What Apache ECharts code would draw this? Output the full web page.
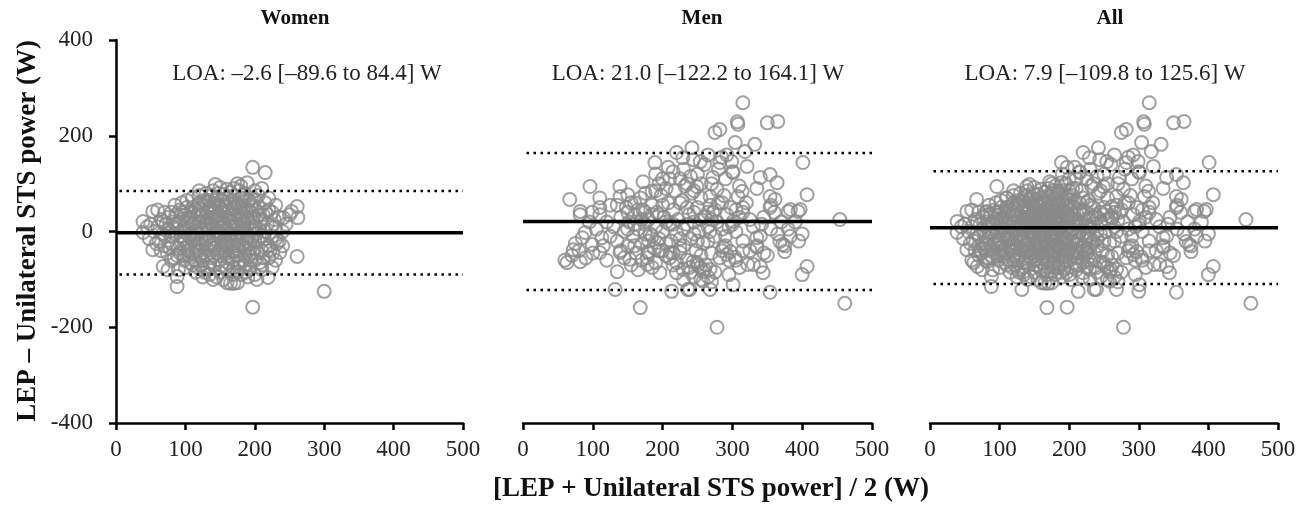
<!DOCTYPE html>
<html>
<head>
<meta charset="utf-8">
<script src="https://cdn.jsdelivr.net/npm/echarts@6/dist/echarts.min.js"></script>
<style>html,body{margin:0;padding:0;background:#fff;}#c{width:1313px;height:508px;}</style>
</head>
<body>
<div id="c"></div>
<script>
// ---- data ----
var panelTitles = ["Women", "Men", "All"];
var loaTexts = ["LOA: \u20132.6 [\u201389.6 to 84.4] W", "LOA: 21.0 [\u2013122.2 to 164.1] W", "LOA: 7.9 [\u2013109.8 to 125.6] W"];
var meanBias = [-2.6, 21.0, 7.9];
var lowerLOA = [-89.6, -122.2, -109.8];
var upperLOA = [84.4, 164.1, 125.6];
var xTicks = [0, 100, 200, 300, 400, 500];
var yTicks = [-400, -200, 0, 200, 400];

var women = [
[197,134],[215,123],[189,102],[143,98],[150,92],[160,88],[170,90],[178,85],[261,52],[253,42],[241,29],[262,29],[250,35],[261,-52],[236,-44],[88,-115],[88,-94],[160,-107],[165,-108],[170,-108],[175,-107],[140,-100],[203,-100],[219,-96],[193,-79],[197,-158],[300,-125],[39,21],[39,-2],[53,42],[53,-38],[68,-73],[45,10],[48,-15],[60,45],[70,40],[75,-80],[80,-60],[85,55],[95,60],[110,70],[120,75],[130,80],[135,-90],[150,-85],[180,-90],[185,-70],[200,-60],[210,-40],[220,-30],[225,-10],[230,10],[225,40],[215,60],[205,75],[200,85],[195,50],[210,20],[215,0],[220,-55],[205,-20],[190,-40],[235,-20],[240,0],
[60,10],[62,-20],[65,25],[67,-5],[70,-30],[72,15],[74,-45],[76,30],[78,0],[80,-25],[82,20],[84,-55],[86,35],[88,5],[90,-35],[92,45],[94,-10],[96,25],[98,-60],[100,10],[100,-20],[102,50],[104,-40],[106,30],[108,-5],[110,-70],[110,15],[112,40],[114,-30],[116,0],[118,55],[120,-50],[120,20],[122,-15],[124,35],[126,-80],[128,5],[130,60],[130,-35],[132,25],[134,-10],[136,45],[138,-55],[140,10],[140,-25],[142,65],[144,30],[146,-45],[148,0],[150,50],[150,-15],[152,-70],[154,20],[156,40],[158,-30],[160,5],[160,70],[162,-55],[164,25],[166,-10],[168,45],[170,-40],[170,15],[172,60],[174,-20],[176,35],[178,-65],[180,0],[180,50],[182,-30],[184,20],[186,-50],[188,40],[190,-10],[192,65],[194,-35],[196,10],[198,30],[200,-20],[202,45],[204,-45],[206,5],[208,25],[210,-70],[212,35],[214,-15],[218,15],[222,-40],[228,25],[232,-25],
[85,-5],[95,0],[105,10],[115,-15],[125,20],[135,5],[145,-5],[155,10],[165,-20],[175,15],[185,5],[195,-15],[105,-50],[115,45],[125,-60],[135,50],[145,70],[155,-40],[165,60],[175,-50],[185,65],[195,-60],[90,20],[100,35],[110,-45],[120,60],[130,-5],[140,40],[150,25],[160,-25],[170,35],[180,-10],[190,25],[200,10],[75,5],[80,40],[70,-10],[65,-40],[90,-80],[100,-75],[115,-85],[125,-95],[145,-95],[155,-100],[175,-85],[190,-95],[120,85],[140,85],[155,78],[165,82],[185,80],[195,70],[170,-75],[160,-80],[150,-60],[140,-70],[130,-50],[118,-5],[128,-25],[138,15],[148,35],[158,55],[168,-60],[178,25],[188,-20],[198,-45],[108,25],[98,-15],[88,-50],[78,-35],[68,20],[58,-25],[55,0],[50,15],[112,-60],[122,5],[132,40],[142,-15],[152,-30],[162,40],[172,-5],[182,75],[192,-75],[202,-5],[212,-55],[132,-75],[146,15],[156,-10],[166,10],[176,-30],[186,-35],[196,55],[206,50],[216,40],[226,-45],[230,-60],[240,-30],[245,15],[230,55],[220,70],[210,90],[180,95],[175,100],[210,-80],[200,-90],[225,-75],
[92,-25],[97,5],[103,-30],[107,40],[113,20],[117,-40],[121,-25],[123,45],[127,-45],[129,15],[131,-15],[133,65],[137,-30],[139,25],[141,-50],[143,0],[147,55],[149,-40],[151,10],[153,45],[157,-20],[159,30],[161,-65],[163,-5],[167,20],[169,-30],[171,50],[173,5],[177,-40],[179,40],[181,10],[183,-60],[187,30],[189,-5],[191,45],[193,-25],[197,20],[199,-35],[103,20],[111,-10],[119,35],[127,65],[135,-65],[143,50],[151,-50],[159,-45],[167,-40],[175,55],[183,45],[191,-50],[145,25],[155,-25],[165,35],[175,-10],[185,15],[135,30],[125,-30],[115,10],[105,-10],[95,40],[85,15],[80,-10],[92,-45],[102,65],[112,-20],[122,-70],[132,10],[142,-35],[152,65],[162,-15],[172,-50],[182,35],[192,5],[160,50],[150,-5],[140,55],[130,30],[120,-40],[110,50],[100,-35],[170,75],[180,70],[148,80],[138,75],[158,-75],[168,-90],[178,-75],[188,-85],[128,-85],[118,-75],[108,-65],[98,-50],[205,35],[210,-10],[215,-35],[200,65],[207,-65],[225,10],[220,45],[230,-15],[235,30]
];

var men = [
[96,94],[67,67],[189,144],[208,134],[172,104],[139,94],[139,73],[150,77],[185,84],[220,165],[229,154],[242,175],[244,150],[110,50],[82,42],
[315,269],[307,229],[308,224],[282,213],[275,207],[350,227],[365,230],[304,186],[332,182],[318,167],[401,144],[254,146],[282,144],[299,146],[321,136],[301,123],[272,113],[340,113],[354,119],[364,102],[407,77],[354,73],[361,67],[383,46],[397,46],[314,84],[308,73],[278,88],[268,73],[249,94],[454,25],
[63,-65],[82,-63],[72,-38],[85,-13],[89,-2],[113,-13],[110,-44],[99,-27],[135,-84],[132,-121],[168,-159],[178,-69],[196,-86],[213,-125],[236,-121],[220,-86],[229,-79],[82,35],[99,40],[110,35],[139,-44],[153,-58],[179,-42],[192,-23],[211,-44],[225,-44],[239,-75],[244,-63],
[278,-200],[461,-150],[354,-127],[301,-111],[268,-121],[239,-121],[400,-90],[407,-73],[344,-86],[340,-73],[322,-69],[330,-69],[375,-42],[368,-21],[383,-10],[372,-27],[380,42],[394,42],[354,50],[335,-33],[335,-13],[342,15],[292,-48],[297,-42],[304,-54],[287,-33],[258,-84],[268,-79],[249,-65],[254,-75],[258,-104],[315,50],[301,21],[268,0],
[130,10],[135,-20],[140,30],[145,0],[148,50],[150,-30],[152,20],[155,60],[158,-10],[160,35],[162,-45],[165,5],[168,70],[170,-25],[172,45],[175,15],[178,-55],[180,25],[182,-5],[185,55],[188,-35],[190,10],[192,40],[195,-15],[198,75],[200,0],[202,30],[205,-50],[208,60],[210,15],[212,-20],[215,45],[218,85],[220,-5],[222,25],[225,-35],[228,65],[230,5],[232,95],[235,-60],[238,35],[240,-15],[242,80],[245,20],[248,-40],[250,50],[252,0],[255,70],[258,-25],[260,30],[262,-70],[265,10],[268,55],[270,-45],[272,40],[275,-85],[278,20],[280,60],[282,-55],[285,5],[288,75],[290,-30],[292,35],[295,-90],[298,50],[300,15],[305,-60],[310,30],[315,-20],[320,60],[325,-40],[330,10],[335,90],[340,-10],[345,30],[350,-50],[355,5],[360,40],[365,-5],[370,20],[375,-30],[380,5],[390,20],[395,-20],[400,-5],
[145,-55],[155,-70],[165,-80],[175,80],[185,-75],[195,100],[205,90],[215,-70],[225,110],[235,100],[245,-95],[255,-100],[265,-95],[270,-105],[260,-80],[250,-70],[240,-85],[230,-100],[220,-65],[210,-55],[200,-40],[190,-65],[180,-45],[170,-60],[160,-30],[150,40],[140,-40],[135,55],[125,-10],[120,20],[115,-30],[105,5],[100,-45],[95,20],[90,-55],[80,-40],[75,-25],[70,-50],[60,-60],[120,-60],[125,55],[110,70],[210,110],[215,125],[190,120],[200,110],[230,130],[240,115],[250,120],[260,140],[270,100],[280,130],[290,110],[300,125],[310,95],[285,155],[292,160],[265,160],[255,100],[245,85],[190,85],[180,-20],[160,15],[150,5],[170,25],[185,-10],[195,35],[205,-25],[215,15],[225,-15],[235,50],[245,-5],[255,25],[265,-20],[275,45],[285,-40],[295,10],[305,0],[315,40],[325,25],[335,-30],[345,-45],[355,55],
[160,60],[165,45],[175,-5],[185,35],[195,-40],[205,20],[215,-45],[225,60],[235,15],[245,40],[255,-50],[265,40],[275,-10],[285,60],[295,-60],[305,45],[315,-40],[175,40],[200,55],[230,-30],[250,-20],[270,25],[290,-10],[310,-75]
];

var allData = women.concat(men);
var panelData = [women, men, allData];

// ---- layout ----
var grids = [
  {left: 116, width: 347, top: 40, height: 383},
  {left: 523, width: 349, top: 40, height: 383},
  {left: 930, width: 348, top: 40, height: 383}
];
var titleX = [290, 697, 1105];
var loaX = [302, 693, 1100];
var FONT = "Liberation Serif";
var chart = echarts.init(document.getElementById('c'));
var xAxes = [], yAxes = [], series = [], titles = [];
for (var i = 0; i < 3; i++) {
  xAxes.push({
    gridIndex: i, type: 'value', min: xTicks[0], max: xTicks[xTicks.length-1], interval: 100,
    axisLine: {show: true, onZero: false, lineStyle: {color: '#000', width: 2.5}},
    axisTick: {show: true, length: 7, lineStyle: {color: '#000', width: 2.5}},
    axisLabel: {fontFamily: FONT, fontSize: 23, color: '#222', margin: 15},
    splitLine: {show: false}
  });
  yAxes.push({
    gridIndex: i, type: 'value', min: yTicks[0], max: yTicks[yTicks.length-1], interval: 200,
    axisLine: {show: i === 0, onZero: false, lineStyle: {color: '#000', width: 2.5}},
    axisTick: {show: i === 0, length: 7, lineStyle: {color: '#000', width: 2.5}},
    axisLabel: {show: i === 0, fontFamily: FONT, fontSize: 23, color: '#222', margin: 23},
    splitLine: {show: false}
  });
  series.push({
    type: 'scatter', xAxisIndex: i, yAxisIndex: i, data: panelData[i],
    symbol: 'circle', symbolSize: 13, z: 2,
    itemStyle: {color: 'rgba(255,255,255,0)', borderColor: '#8a8a8a', borderWidth: 2},
    silent: true, animation: false
  });
  series.push({
    type: 'line', xAxisIndex: i, yAxisIndex: i, z: 5, symbol: 'none', animation: false, silent: true,
    data: [[xTicks[0], meanBias[i]], [xTicks[xTicks.length-1], meanBias[i]]],
    lineStyle: {color: '#000', width: 3.5, type: 'solid'}
  });
  series.push({
    type: 'line', xAxisIndex: i, yAxisIndex: i, z: 5, symbol: 'none', animation: false, silent: true,
    data: [[5, upperLOA[i]], [xTicks[xTicks.length-1], upperLOA[i]]],
    lineStyle: {color: '#000', width: 2.5, type: [2.5, 4.5]}
  });
  series.push({
    type: 'line', xAxisIndex: i, yAxisIndex: i, z: 5, symbol: 'none', animation: false, silent: true,
    data: [[5, lowerLOA[i]], [xTicks[xTicks.length-1], lowerLOA[i]]],
    lineStyle: {color: '#000', width: 2.5, type: [2.5, 4.5]}
  });
  titles.push({
    text: panelTitles[i], left: titleX[i], top: 3, textAlign: 'center',
    textStyle: {fontFamily: FONT, fontSize: 21, fontWeight: 'bold', color: '#111'}
  });
  titles.push({
    text: loaTexts[i], left: loaX[i], top: 57, textAlign: 'center',
    textStyle: {fontFamily: FONT, fontSize: 23, fontWeight: 'normal', color: '#222'}
  });
}

chart.setOption({
  animation: false,
  backgroundColor: '#fff',
  title: titles,
  grid: grids,
  xAxis: xAxes,
  yAxis: yAxes,
  series: series,
  graphic: [
    {type: 'text', x: 28, y: 231, rotation: Math.PI / 2, style: {
      text: 'LEP \u2013 Unilateral STS power (W)', fontFamily: FONT, fontSize: 27, fontWeight: 'bold',
      fill: '#111', align: 'center', verticalAlign: 'middle'}},
    {type: 'text', x: 711, y: 489, style: {
      text: '[LEP + Unilateral STS power] / 2 (W)', fontFamily: FONT, fontSize: 27, fontWeight: 'bold',
      fill: '#111', align: 'center', verticalAlign: 'middle'}}
  ]
});
</script>
</body>
</html>
